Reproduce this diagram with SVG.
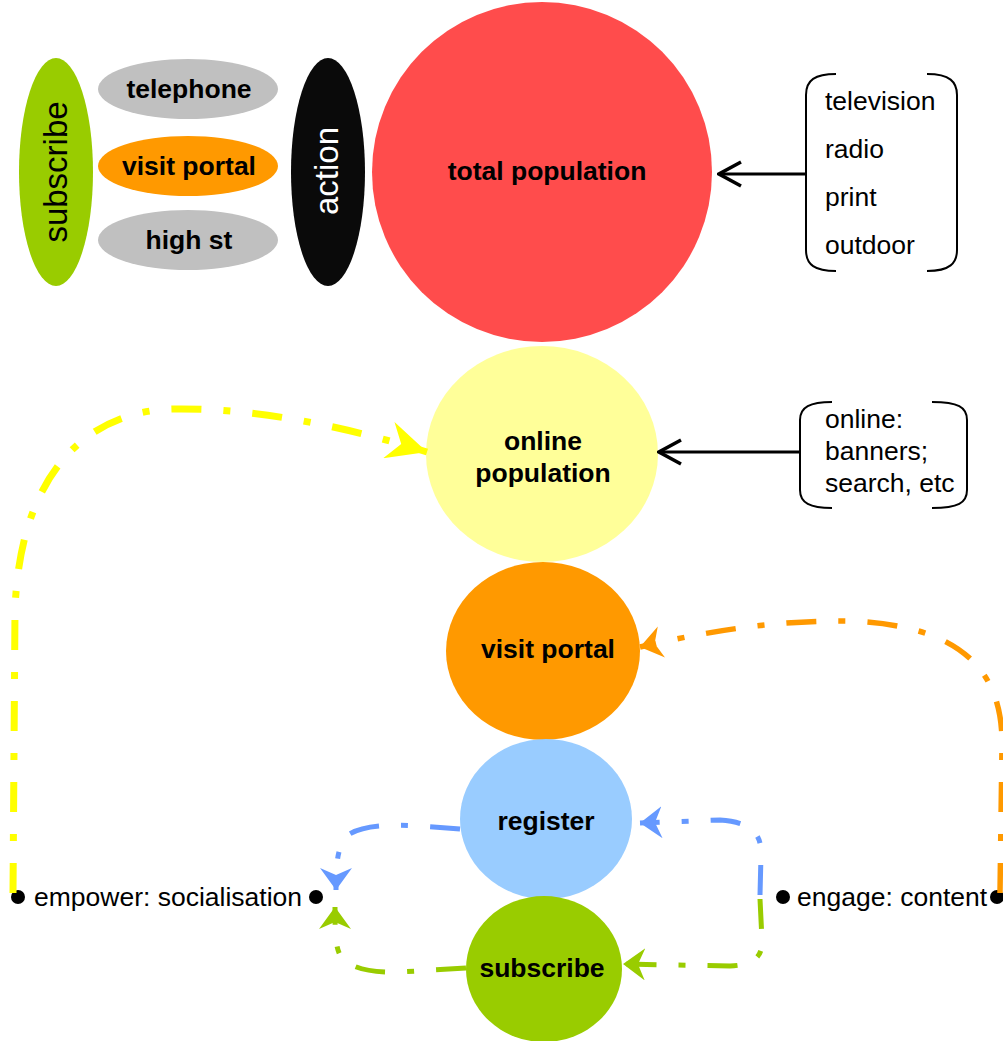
<svg xmlns="http://www.w3.org/2000/svg" width="1003" height="1041" viewBox="0 0 1003 1041">
<style>
text{font-family:"Liberation Sans",Arial,sans-serif;font-size:26.5px;fill:#000}
.b{font-weight:bold;text-anchor:middle}
.rot{font-size:33px;text-anchor:middle}
.dash{fill:none;stroke-dasharray:30 22 7 22}
.br{fill:none;stroke:#000;stroke-width:2}
.blk{fill:none;stroke:#000;stroke-width:3}
</style>
<defs>
<marker id="ay" markerUnits="userSpaceOnUse" viewBox="0 0 40 38" refX="40" refY="19" markerWidth="40" markerHeight="38" orient="auto"><path d="M0,0 L40,19 L0,38 L13,19 z" fill="#ffff00"/></marker>
<marker id="ao" markerUnits="userSpaceOnUse" viewBox="0 0 22 32" refX="22" refY="16" markerWidth="22" markerHeight="32" orient="auto"><path d="M0,0 L22,16 L0,32 L7,16 z" fill="#ff9900"/></marker>
<marker id="ab" markerUnits="userSpaceOnUse" viewBox="0 0 22 32" refX="22" refY="16" markerWidth="22" markerHeight="32" orient="auto"><path d="M0,0 L22,16 L0,32 L7,16 z" fill="#6699ff"/></marker>
<marker id="ag" markerUnits="userSpaceOnUse" viewBox="0 0 22 32" refX="22" refY="16" markerWidth="22" markerHeight="32" orient="auto"><path d="M0,0 L22,16 L0,32 L7,16 z" fill="#99cc00"/></marker>
<marker id="ak" markerUnits="userSpaceOnUse" viewBox="-2 -2 26 28" refX="22" refY="12" markerWidth="26" markerHeight="28" orient="auto"><path d="M0,0 L22,12 L0,24" fill="none" stroke="#000" stroke-width="3.5"/></marker>
</defs>

<g id="subscribe-side">
<ellipse cx="56" cy="172" rx="37" ry="114" fill="#99cc00"/>
<text class="rot" transform="translate(67,172) rotate(-90)" fill="#1a1a1a">subscribe</text>
</g>
<g id="telephone">
<ellipse cx="188" cy="89" rx="90" ry="30" fill="#c0c0c0"/>
<text class="b" x="189" y="98">telephone</text>
</g>
<g id="visit-portal-small">
<ellipse cx="188" cy="166" rx="90" ry="30" fill="#ff9900"/>
<text class="b" x="189" y="175">visit portal</text>
</g>
<g id="high-st">
<ellipse cx="188" cy="240" rx="90" ry="30" fill="#c0c0c0"/>
<text class="b" x="189" y="249">high st</text>
</g>
<g id="action">
<ellipse cx="328" cy="172" rx="37" ry="114" fill="#0a0a0a"/>
<text class="rot" transform="translate(338,171) rotate(-90)" style="fill:#fff">action</text>
</g>
<g id="total-population">
<circle cx="542" cy="172" r="170" fill="#ff4c4c"/>
<text class="b" x="547" y="180">total population</text>
</g>
<g id="online-population">
<ellipse cx="542" cy="454" rx="116" ry="108" fill="#ffff99"/>
<text class="b" x="543" y="450">online</text>
<text class="b" x="543" y="482">population</text>
</g>
<g id="visit-portal">
<ellipse cx="543" cy="651" rx="97" ry="89" fill="#ff9900"/>
<text class="b" x="548" y="658">visit portal</text>
</g>
<g id="register">
<ellipse cx="546" cy="819" rx="86" ry="80" fill="#99ccff"/>
<text class="b" x="546" y="830">register</text>
</g>
<g id="subscribe">
<ellipse cx="544" cy="969" rx="78" ry="73" fill="#99cc00"/>
<text class="b" x="542" y="977">subscribe</text>
</g>
<g id="media-box">
<path class="br" d="M836 74 C815 74 806 80 806 95 L806 250 C806 265 815 271 836 271"/>
<path class="br" d="M927 74 C950 74 957 82 957 95 L957 250 C957 263 950 271 927 271"/>
<text x="825" y="110">television</text>
<text x="825" y="158">radio</text>
<text x="825" y="206">print</text>
<text x="825" y="254">outdoor</text>
</g>
<g id="online-box">
<path class="br" d="M832 402 C810 402 800 407 800 420 L800 490 C800 503 810 508 832 508"/>
<path class="br" d="M932 402 C958 402 967 407 967 420 L967 490 C967 503 958 508 932 508"/>
<text x="825" y="428">online:</text>
<text x="825" y="460">banners;</text>
<text x="825" y="492">search, etc</text>
</g>
<g id="empower">
<circle cx="18" cy="897" r="7"/>
<text x="34" y="906">empower: socialisation</text>
<circle cx="316" cy="897" r="7"/>
</g>
<g id="engage">
<circle cx="783" cy="897" r="7"/>
<text x="797" y="906">engage: content</text>
<circle cx="997" cy="897" r="7"/>
</g>

<g id="connectors">
<path class="blk" d="M806 174 L719 174" marker-end="url(#ak)"/>
<path class="blk" d="M800 452 L659 452" marker-end="url(#ak)"/>
<path class="dash" stroke="#ffff00" stroke-width="7" d="M13 893 L15 610 C20 470 90 410 175 409 C260 408 350 428 427 452" marker-end="url(#ay)"/>
<path class="dash" stroke="#ff9900" stroke-width="5.5" d="M1000 893 L1002 745 C1003 670 960 625 850 621 C770 620 700 633 640 647" marker-end="url(#ao)"/>
<path class="dash" stroke="#6699ff" stroke-width="5" d="M460 829 C420 826 370 820 348 835 C338 845 336 860 336 890" marker-end="url(#ab)"/>
<path class="dash" stroke="#99cc00" stroke-width="5" d="M466 968 L400 972 C370 973 348 968 340 955 C335 945 335 930 335 907" marker-end="url(#ag)"/>
<path class="dash" stroke="#6699ff" stroke-width="5" d="M760 895 L761 855 C762 835 752 822 720 820 L640 823" marker-end="url(#ab)"/>
<path class="dash" stroke="#99cc00" stroke-width="5" d="M760 899 L762 940 C763 958 752 965 730 966 L623 964" marker-end="url(#ag)"/>
</g>
</svg>
